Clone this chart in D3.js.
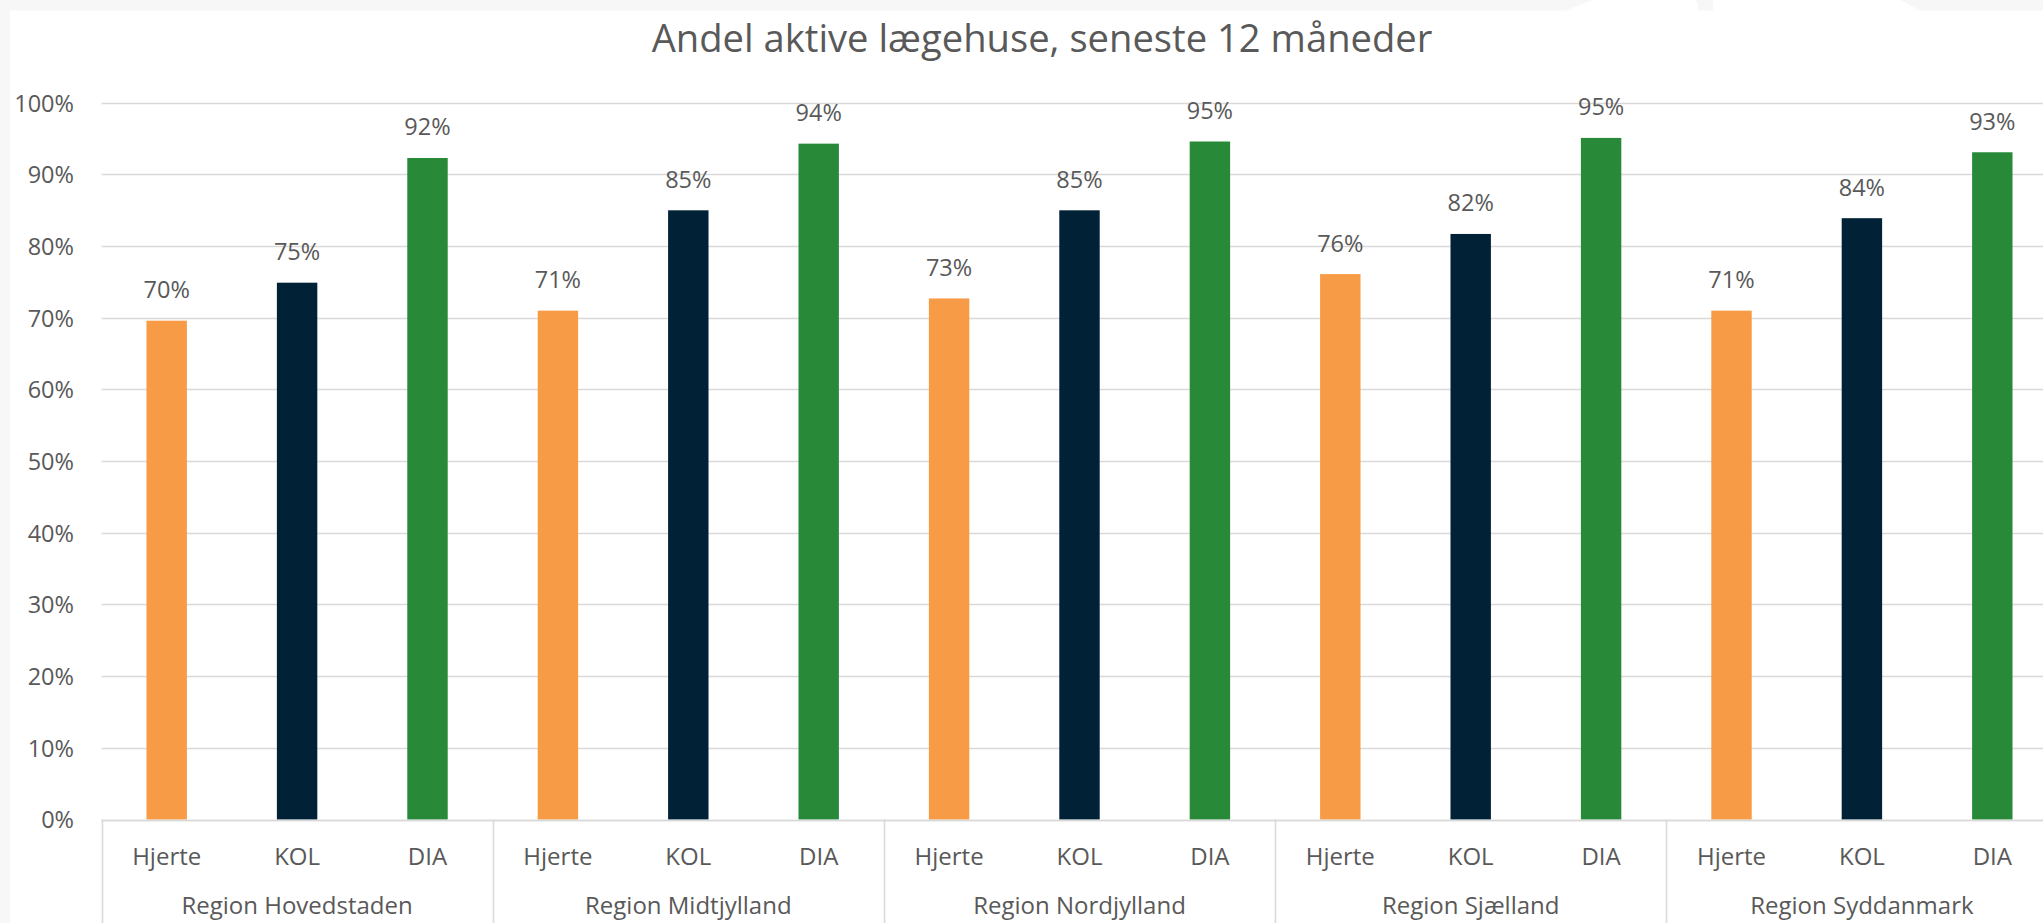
<!DOCTYPE html>
<html>
<head>
<meta charset="utf-8">
<script src="https://cdn.jsdelivr.net/npm/d3@7"></script>
<style>
  html, body { margin: 0; padding: 0; background: #ffffff; overflow: hidden; }
  svg { display: block; }
  text { font-family: 'Open Sans', 'Noto Sans', sans-serif; }
</style>
</head>
<body>
<svg id="chart" width="2043" height="923"></svg>
<script>
// ---- data ----
const title = "Andel aktive lægehuse, seneste 12 måneder";
const regions = ["Region Hovedstaden", "Region Midtjylland", "Region Nordjylland", "Region Sjælland", "Region Syddanmark"];
const series = ["Hjerte", "KOL", "DIA"];
const hjerte = [0.696, 0.710, 0.727, 0.761, 0.710];
const kol    = [0.749, 0.850, 0.850, 0.817, 0.839];
const dia    = [0.923, 0.943, 0.946, 0.951, 0.931];
const yTicks = [0, 0.1, 0.2, 0.3, 0.4, 0.5, 0.6, 0.7, 0.8, 0.9, 1.0];
const seriesColors = ["#F89B47", "#012236", "#288A38"];

// ---- layout ----
const W = 2043, H = 923;
const plotLeft = 101.5, regionWidth = 391.2;
const yBottom = 819.5, yTop = 102.8;
const textColor = "#595959", gridColor = "#d9d9d9";

const svg = d3.select("#chart");

// background: light frame band on top and left
svg.append("rect").attr("x", 0).attr("y", 0).attr("width", W).attr("height", H).attr("fill", "#f7f7f7");
svg.append("rect").attr("x", 10).attr("y", 10.5).attr("width", W - 10).attr("height", H - 10.5).attr("fill", "#ffffff");
// white shapes intruding into top band
svg.append("path").attr("d", "M1566,10.5 L1592,0 L1695,0 L1698,4 L1698,10.5 Z").attr("fill", "#ffffff");
svg.append("path").attr("d", "M1713,0 L1900,0 L1920,10.5 L1713,10.5 Z").attr("fill", "#ffffff");

const table = regions.map((r, i) => ({ region: r, values: [hjerte[i], kol[i], dia[i]] }));

const x0 = d3.scaleBand().domain(regions).range([plotLeft, plotLeft + regionWidth * regions.length]).padding(0);
const x1 = d3.scaleBand().domain(series).range([0, x0.bandwidth()]).paddingInner(0.69).paddingOuter(0.345);
const y = d3.scaleLinear().domain([0, 1]).range([yBottom, yTop]);

// gridlines
const yAxis = d3.axisLeft(y).tickValues(yTicks).tickFormat(d3.format(".0%")).tickSize(0).tickPadding(0);
const gy = svg.append("g");
gy.selectAll("line.grid").data(yTicks).join("line")
  .attr("class", "grid")
  .attr("x1", plotLeft).attr("x2", W)
  .attr("y1", d => Math.round(y(d)) + 0.5).attr("y2", d => Math.round(y(d)) + 0.5)
  .attr("stroke", gridColor).attr("stroke-width", 1.6);

// y axis tick labels via d3 axis
const ga = svg.append("g").attr("transform", `translate(74,0)`).call(yAxis);
ga.select(".domain").remove();
ga.selectAll("text")
  .attr("fill", textColor)
  .attr("font-size", 23.5)
  .attr("font-family", "'Open Sans', sans-serif")
  .attr("dy", "0.36em")
  .attr("text-anchor", "end");

// bars
const groups = svg.append("g").selectAll("g.region").data(table).join("g")
  .attr("class", "region")
  .attr("transform", d => `translate(${x0(d.region)},0)`);

groups.selectAll("rect").data(d => d.values.map((v, j) => ({ s: series[j], v, j }))).join("rect")
  .attr("x", d => x1(d.s))
  .attr("width", x1.bandwidth())
  .attr("y", d => y(d.v))
  .attr("height", d => y(0) - y(d.v))
  .attr("fill", d => seriesColors[d.j]);

// data labels
groups.selectAll("text.lbl").data(d => d.values.map((v, j) => ({ s: series[j], v, j }))).join("text")
  .attr("class", "lbl")
  .attr("x", d => x1(d.s) + x1.bandwidth() / 2)
  .attr("y", d => y(d.v) - 22.5)
  .attr("text-anchor", "middle")
  .attr("font-size", 23.5)
  .attr("fill", textColor)
  .text(d => d3.format(".0%")(d.v));

// x axis baseline
svg.append("line")
  .attr("x1", plotLeft).attr("x2", W)
  .attr("y1", Math.round(y(0)) + 0.5).attr("y2", Math.round(y(0)) + 0.5)
  .attr("stroke", gridColor).attr("stroke-width", 1.6);

// region separators (multi-level axis)
const sepX = regions.map(r => x0(r)).concat([x0.range()[1]]);
svg.append("g").selectAll("line").data(sepX).join("line")
  .attr("x1", d => Math.round(d) + 0.5).attr("x2", d => Math.round(d) + 0.5)
  .attr("y1", y(0)).attr("y2", H + 10)
  .attr("stroke", gridColor).attr("stroke-width", 1.6);

// category labels
groups.selectAll("text.cat").data(series).join("text")
  .attr("class", "cat")
  .attr("x", d => x1(d) + x1.bandwidth() / 2)
  .attr("y", 865)
  .attr("text-anchor", "middle")
  .attr("font-size", 24)
  .attr("fill", textColor)
  .text(d => d);

// region labels
groups.append("text")
  .attr("x", x0.bandwidth() / 2)
  .attr("y", 914)
  .attr("text-anchor", "middle")
  .attr("font-size", 24)
  .attr("fill", textColor)
  .text(d => d.region);

// title
const t = svg.append("text")
  .attr("x", 1042)
  .attr("y", 52)
  .attr("text-anchor", "middle")
  .attr("font-size", 36)
  .attr("fill", textColor)
  .text(title);
const tw = t.node().getComputedTextLength();
if (tw > 0) t.attr("font-size", 36 * 781 / tw);
</script>
</body>
</html>
